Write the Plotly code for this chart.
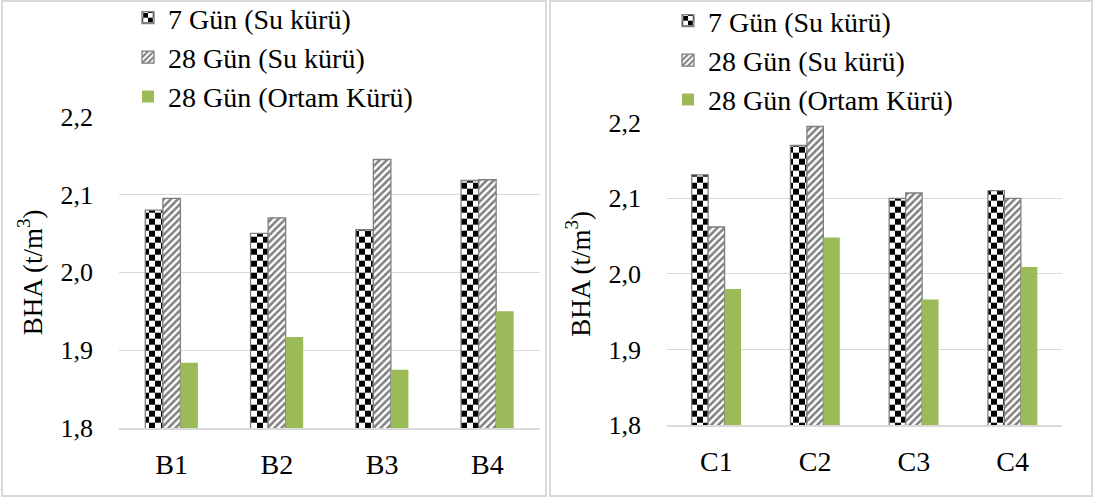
import plotly.graph_objects as go

# ---- data ----
cats_b = ["B1", "B2", "B3", "B4"]
cats_c = ["C1", "C2", "C3", "C4"]
series_names = ["7 Gün (Su kürü)", "28 Gün (Su kürü)", "28 Gün (Ortam Kürü)"]
b_7_su = [2.080, 2.050, 2.055, 2.118]
b_28_su = [2.095, 2.070, 2.145, 2.119]
b_28_ortam = [1.884, 1.917, 1.875, 1.950]
c_7_su = [2.131, 2.170, 2.100, 2.110]
c_28_su = [2.062, 2.195, 2.107, 2.100]
c_28_ortam = [1.980, 2.048, 1.966, 2.009]
y_ticks = [1.8, 1.9, 2.0, 2.1, 2.2]

W, H = 1094, 497
FONT = "Liberation Serif"
GREEN = "#9bbb59"
GRID = "#d9d9d9"
OUTLINE = "#7f7f7f"

fig = go.Figure()

def add_panel(cats, vals, xa, ya, legend):
    styles = [
        dict(color="white", pattern=dict(shape="+", fgcolor="rgb(1,1,1)", bgcolor="white", size=12, solidity=0.5),
             line=dict(color=OUTLINE, width=1.3)),
        dict(color="white", pattern=dict(shape="/", fgcolor="black", bgcolor="white", size=5, solidity=0.5),
             line=dict(color=OUTLINE, width=1.3)),
        dict(color=GREEN, line=dict(width=0)),
    ]
    for i, (name, v) in enumerate(zip(series_names, vals)):
        fig.add_trace(go.Bar(
            x=cats, y=v, name=name, marker=styles[i],
            xaxis=xa, yaxis=ya, legend=legend, legendgroup=f"{legend}{i}",
            showlegend=True, hoverinfo="skip",
        ))

add_panel(cats_b, [b_7_su, b_28_su, b_28_ortam], "x", "y", "legend")
add_panel(cats_c, [c_7_su, c_28_su, c_28_ortam], "x2", "y2", "legend2")

def px_x(a, b):
    return [a / W, b / W]

def px_y(top, bottom):
    return [(H - bottom) / H, (H - top) / H]

yax_common = dict(
    range=[1.8, 2.2], tickvals=y_ticks, tickformat=".1f",
    showgrid=True, gridcolor=GRID, gridwidth=1, zeroline=False, showline=False,
    ticks="", ticklabelstandoff=25, automargin=False,
    tickfont=dict(family=FONT, size=26, color="black"),
    title=dict(text="BHA (t/m<sup>3</sup>)", font=dict(family=FONT, size=27, color="black"), standoff=10),
    fixedrange=True,
)
xax_common = dict(
    showline=True, linecolor=GRID, linewidth=1.5, ticks="", showgrid=False, automargin=False,
    tickfont=dict(family=FONT, size=28, color="black"), ticklabelstandoff=11,
    fixedrange=True,
)

fig.update_layout(
    width=W, height=H, autosize=False,
    margin=dict(l=0, r=0, t=0, b=0, autoexpand=False),
    paper_bgcolor="white", plot_bgcolor="white",
    separators=",.",
    barmode="group", bargap=0.5, bargroupgap=0,
    font=dict(family=FONT, color="black"),
    xaxis=dict(domain=px_x(119, 540), anchor="y", **xax_common),
    yaxis=dict(domain=px_y(116.7, 428), anchor="x", **yax_common),
    xaxis2=dict(domain=px_x(667, 1062), anchor="y2", **xax_common),
    yaxis2=dict(domain=px_y(122.7, 425), anchor="x2", **yax_common),
    legend=dict(x=128 / W, y=1 + 7 / H, xanchor="left", yanchor="top",
                font=dict(family=FONT, size=28, color="black"), bgcolor="rgba(0,0,0,0)",
                tracegroupgap=0, traceorder="normal"),
    legend2=dict(x=668 / W, y=1 + 4 / H, xanchor="left", yanchor="top",
                 font=dict(family=FONT, size=28, color="black"), bgcolor="rgba(0,0,0,0)",
                 tracegroupgap=0, traceorder="normal"),
    shapes=[
        dict(type="rect", xref="paper", yref="paper", x0=2 / W, x1=546 / W, y0=1 / H, y1=1 - 1 / H,
             line=dict(color=GRID, width=2), fillcolor="rgba(0,0,0,0)", layer="below"),
        dict(type="rect", xref="paper", yref="paper", x0=550 / W, x1=1092 / W, y0=1 / H, y1=1 - 1 / H,
             line=dict(color=GRID, width=2), fillcolor="rgba(0,0,0,0)", layer="below"),
    ],
)

post_js = """
document.body.style.margin = '0';
document.body.style.padding = '0';
document.body.style.overflow = 'hidden';
var gd = document.getElementById('{plot_id}');
function fixChecker(){
  var ns = 'http://www.w3.org/2000/svg';
  var pats = document.querySelectorAll('pattern');
  pats.forEach(function(p){
    var h = p.innerHTML;
    if (h.indexOf('1, 1, 1') < 0 && h.indexOf('#010101') < 0 && h.indexOf('1,1,1') < 0) return;
    var s = 12;
    p.setAttribute('width', s); p.setAttribute('height', s);
    while (p.firstChild) p.removeChild(p.firstChild);
    var mk = function(x, y, w, hh, f){
      var r = document.createElementNS(ns, 'rect');
      r.setAttribute('x', x); r.setAttribute('y', y);
      r.setAttribute('width', w); r.setAttribute('height', hh);
      r.setAttribute('fill', f);
      p.appendChild(r);
    };
    mk(0, 0, s, s, 'white');
    mk(0, 0, s/2, s/2, 'rgb(1, 1, 1)');
    mk(s/2, s/2, s/2, s/2, 'rgb(1, 1, 1)');
  });
}
fixChecker();
if (gd && gd.on) gd.on('plotly_afterplot', fixChecker);
"""

fig.write_html("out.html", post_script=post_js, config={"displayModeBar": False})
